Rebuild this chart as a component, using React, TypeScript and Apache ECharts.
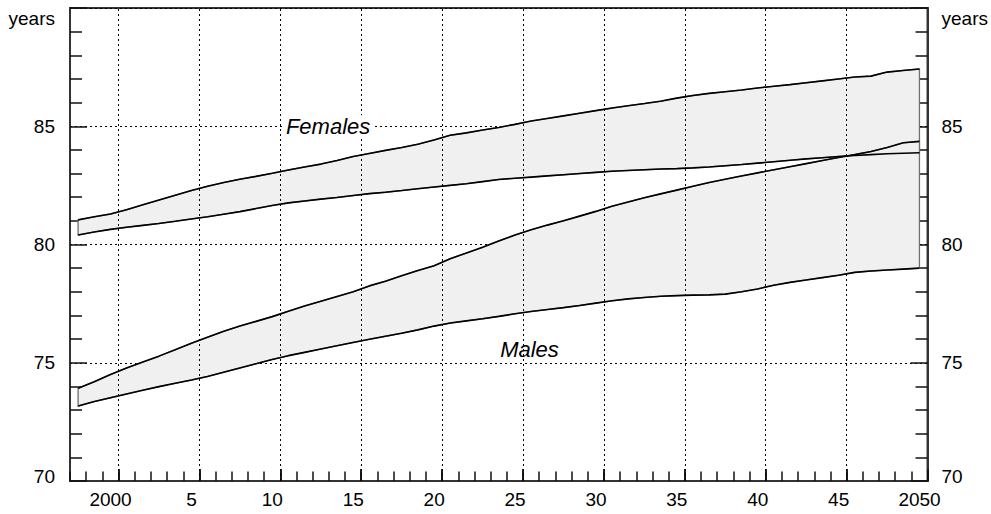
import React, { useEffect, useRef } from "react";
import * as echarts from "echarts";

// x positions: mid-year points 1997.5 ... 2049.5
const YEARS: number[] = Array.from({ length: 53 }, (_, i) => 1997.5 + i);

const femalesHigh = [
  81.04, 81.17, 81.29, 81.47, 81.68, 81.88, 82.08, 82.28, 82.46, 82.62,
  82.76, 82.88, 83.01, 83.15, 83.28, 83.4, 83.55, 83.72, 83.85, 83.98,
  84.1, 84.24, 84.42, 84.62, 84.72, 84.84, 84.95, 85.08, 85.22, 85.33,
  85.44, 85.55, 85.66, 85.77, 85.87, 85.96, 86.06, 86.19, 86.3, 86.39,
  86.46, 86.53, 86.62, 86.69, 86.76, 86.84, 86.92, 87.0, 87.08, 87.12,
  87.29, 87.36, 87.42,
];
const femalesLow = [
  80.4, 80.53, 80.64, 80.73, 80.81, 80.89, 80.98, 81.08, 81.17, 81.28,
  81.39, 81.52, 81.65, 81.76, 81.84, 81.92, 81.99, 82.07, 82.15, 82.21,
  82.28, 82.36, 82.43, 82.5, 82.57, 82.66, 82.75, 82.8, 82.85, 82.9,
  82.95, 83.0, 83.05, 83.1, 83.13, 83.16, 83.19, 83.21, 83.24, 83.28,
  83.33, 83.38, 83.44, 83.5, 83.56, 83.62, 83.67, 83.72, 83.76, 83.8,
  83.84, 83.86, 83.88,
];
const malesHigh = [
  73.92, 74.2, 74.5, 74.78, 75.03, 75.28, 75.55, 75.82, 76.08, 76.33,
  76.55, 76.75, 76.95, 77.18, 77.4, 77.6, 77.8, 78.0, 78.25, 78.45,
  78.68, 78.9, 79.1, 79.4, 79.64, 79.88, 80.15, 80.4, 80.62, 80.82,
  81.0, 81.2, 81.4, 81.62, 81.8, 81.98, 82.14, 82.3, 82.46, 82.62,
  82.76, 82.9, 83.03, 83.16, 83.29, 83.42, 83.55, 83.68, 83.8, 83.93,
  84.1, 84.3, 84.36,
];
const malesLow = [
  73.17, 73.36, 73.52, 73.68, 73.84, 73.99, 74.13, 74.27, 74.42, 74.6,
  74.78, 74.96, 75.14, 75.3, 75.44, 75.58, 75.72, 75.86, 75.99, 76.12,
  76.25, 76.39, 76.55, 76.68, 76.77, 76.86, 76.96, 77.07, 77.17, 77.25,
  77.33, 77.42, 77.52, 77.62, 77.7, 77.76, 77.81, 77.84, 77.86, 77.87,
  77.9, 78.0, 78.12, 78.28, 78.4, 78.5, 78.6, 78.7, 78.82, 78.88,
  78.92, 78.96, 79.0,
];

const xGridYears = [2000, 2005, 2010, 2015, 2020, 2025, 2030, 2035, 2040, 2045];
const xMajorTicks = [2000, 2005, 2010, 2015, 2020, 2025, 2030, 2035, 2040, 2045, 2050];
const bandLabels = [
  { name: "Females", x: 2012.95, y: 85.0 },
  { name: "Males", x: 2025.4, y: 75.54 },
];

const FONT = '"Liberation Sans", Arial, Helvetica, sans-serif';

function pairs(ys: number[]) {
  return ys.map((v, i) => [YEARS[i], v]);
}

function bandSeries(high: number[], low: number[]) {
  return {
    type: "custom",
    z: 2,
    silent: true,
    xAxisIndex: 0,
    yAxisIndex: 0,
    data: [[YEARS[0], low[0]]],
    renderItem: (_params: any, api: any) => {
      const pts: number[][] = [];
      for (let i = 0; i < YEARS.length; i++) pts.push(api.coord([YEARS[i], high[i]]));
      for (let i = YEARS.length - 1; i >= 0; i--) pts.push(api.coord([YEARS[i], low[i]]));
      return {
        type: "polygon",
        shape: { points: pts },
        style: { fill: "#f0f0f0", stroke: "#707070", lineWidth: 1.3 },
      };
    },
  };
}

function lineSeries(ys: number[]) {
  return {
    type: "line",
    z: 3,
    silent: true,
    data: pairs(ys),
    showSymbol: false,
    symbol: "none",
    lineStyle: { color: "#000", width: 1.6 },
  };
}

export default function App() {
  const ref = useRef<HTMLDivElement>(null);
  useEffect(() => {
    if (!ref.current) return;
    const chart = echarts.init(ref.current, undefined, { renderer: "svg" });
    const dotted = { color: "#000", width: 1, type: [2, 3] as any };
    const yAxisBase = {
      type: "value",
      min: 70,
      max: 90,
      interval: 5,
      name: "years",
      nameLocation: "end",
      nameGap: -10,
      axisLine: { show: true, lineStyle: { color: "#333", width: 2 } },
      axisTick: { show: true, inside: true, length: 17, lineStyle: { color: "#111", width: 1.5 } },
      minorTick: { show: true, splitNumber: 5, length: 12, lineStyle: { color: "#111", width: 1.5 } },
      axisLabel: {
        fontSize: 19,
        color: "#000",
        fontFamily: FONT,
        formatter: (v: number) => (v === 90 ? "" : v === 70 ? "{lo|70}" : String(v)),
        rich: { lo: { fontSize: 19, fontFamily: FONT, color: "#000", padding: [0, 0, 10, 0] } },
      },
    };
    chart.setOption({
      animation: false,
      backgroundColor: "#fff",
      grid: {
        left: 70,
        right: 63,
        top: 8,
        bottom: 33,
        show: true,
        borderColor: "#333",
        borderWidth: 2,
        backgroundColor: "transparent",
      },
      xAxis: [
        {
          type: "value",
          min: 1997,
          max: 2050,
          interval: 1,
          position: "bottom",
          axisLine: { show: true, lineStyle: { color: "#333", width: 2 } },
          axisTick: { show: true, inside: true, length: 9.5, lineStyle: { color: "#111", width: 1.5 } },
          splitLine: { show: false },
          axisLabel: {
            fontSize: 19,
            color: "#000",
            fontFamily: FONT,
            margin: 9,
            padding: [0, 16, 0, 0],
            formatter: (v: number) => {
              if (v % 5 !== 0) return "";
              if (v === 2000 || v === 2050) return String(v);
              return String(v - 2000);
            },
          },
        },
        {
          type: "value",
          min: 1997,
          max: 2050,
          position: "bottom",
          axisLine: { show: false },
          axisTick: {
            show: true,
            inside: true,
            length: 12,
            customValues: xMajorTicks,
            lineStyle: { color: "#111", width: 1.8 },
          },
          axisLabel: { show: false },
          splitLine: { show: false },
        },
      ],
      yAxis: [
        {
          ...yAxisBase,
          position: "left",
          splitLine: { show: true, lineStyle: dotted },
          nameTextStyle: { fontSize: 19, color: "#000", fontFamily: FONT, align: "right", verticalAlign: "middle", padding: [0, 15, 0, 0] },
          axisLabel: { ...yAxisBase.axisLabel, margin: 15 },
        },
        {
          ...yAxisBase,
          position: "right",
          splitLine: { show: false },
          nameTextStyle: { fontSize: 19, color: "#000", fontFamily: FONT, align: "left", verticalAlign: "middle", padding: [0, 0, 0, 14] },
          axisLabel: { ...yAxisBase.axisLabel, margin: 14 },
        },
      ],
      series: [
        {
          type: "line",
          z: 1,
          silent: true,
          data: [[2000, 70]],
          symbol: "none",
          lineStyle: { width: 0, opacity: 0 },
          markLine: {
            silent: true,
            symbol: ["none", "none"],
            label: { show: false },
            lineStyle: dotted,
            data: xGridYears.map((y) => ({ xAxis: y })),
          },
        },
        bandSeries(femalesHigh, femalesLow),
        bandSeries(malesHigh, malesLow),
        lineSeries(femalesHigh),
        lineSeries(femalesLow),
        lineSeries(malesHigh),
        lineSeries(malesLow),
        {
          type: "custom",
          z: 5,
          silent: true,
          data: bandLabels.map((b) => [b.x, b.y]),
          renderItem: (params: any, api: any) => {
            const p = api.coord([api.value(0), api.value(1)]);
            const lab = bandLabels[params.dataIndex];
            return {
              type: "text",
              x: p[0],
              y: p[1],
              style: {
                text: lab.name,
                fontSize: 22,
                fontStyle: "italic",
                fontFamily: FONT,
                fill: "#000",
                align: "center",
                verticalAlign: "middle",
                backgroundColor: params.dataIndex === 0 ? "#fff" : undefined,
                padding: [0, 3],
              },
            };
          },
        },
      ],
    });
    return () => chart.dispose();
  }, []);
  return <div ref={ref} style={{ position: "fixed", left: 0, top: 0, width: 991, height: 514 }} />;
}
